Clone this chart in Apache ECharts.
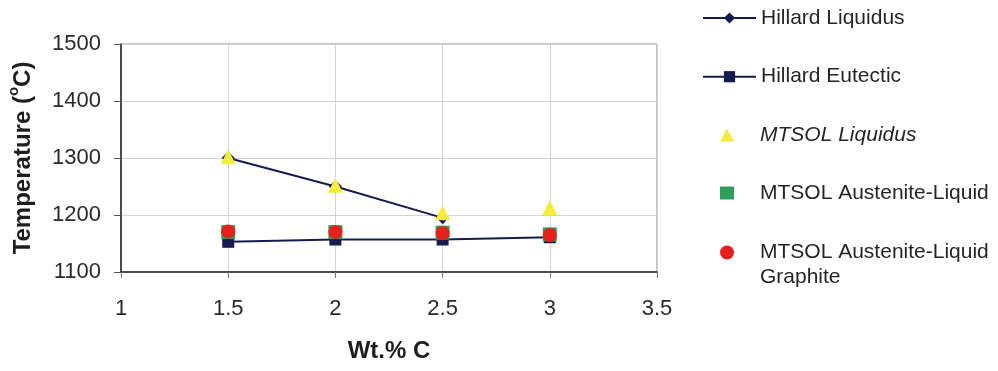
<!DOCTYPE html>
<html>
<head>
<meta charset="utf-8">
<script src="https://cdn.jsdelivr.net/npm/echarts@6/dist/echarts.min.js"></script>
<style>
  html, body { margin: 0; padding: 0; background: #fff; }
  #chart { width: 998px; height: 371px; }
</style>
</head>
<body>
<div id="chart"></div>
<script>
// Carbon content (wt.% C) of each composition
const carbon = [1.5, 2, 2.5, 3];
// Hillard data (°C)
const hillardLiquidus = [1300, 1250, 1195];
const hillardEutectic = [1153, 1157, 1157, 1161];
// MTSOL calculations (°C)
const mtsolLiquidus = [1302, 1252, 1204, 1213];
const mtsolAusteniteLiquid = [1170, 1170, 1169, 1166];
const mtsolAusteniteLiquidGraphite = [1171, 1170, 1168, 1165];

const pairs = (ys) => ys.map((y, i) => [carbon[i], y]);

const NAVY = '#161b4e';
const FONT = '"Liberation Sans", Arial, sans-serif';
const legendText = {
  fontFamily: FONT, fontSize: 21, color: '#252525', lineHeight: 24,
  rich: { s: { width: 21 } }
};
// marker-only entries get their text indented to line up with the line entries
const indented = (text) => text.split('\n').map((t) => '{s|}' + t).join('\n');

const chart = echarts.init(document.getElementById('chart'));
chart.setOption({
  animation: false,
  backgroundColor: '#ffffff',
  grid: {
    left: 121, top: 44, right: 341, bottom: 99,
    outerBoundsMode: 'none', containLabel: false,
    show: true, borderColor: '#8a8a8a', borderWidth: 1
  },
  xAxis: {
    type: 'value', min: 1, max: 3.5, interval: 0.5,
    name: 'Wt.% C', nameLocation: 'middle', nameGap: 67,
    nameTextStyle: { fontFamily: FONT, fontSize: 24, fontWeight: 'bold', color: '#1e1e1e' },
    axisLine: { show: true, onZero: false, lineStyle: { color: '#222', width: 1.5 } },
    axisTick: { show: true, inside: false, length: 6, lineStyle: { color: '#777' } },
    axisLabel: { fontFamily: FONT, fontSize: 22, color: '#2a2a2a', margin: 26, formatter: (v) => String(v) },
    splitLine: { show: true, lineStyle: { color: '#d2d2d2', width: 1 } }
  },
  yAxis: {
    type: 'value', min: 1100, max: 1500, interval: 100,
    name: '{a|Temperature (}{sup|o}{a|C)}', nameLocation: 'middle', nameGap: 80,
    nameTextStyle: {
      rich: {
        a: { fontFamily: FONT, fontSize: 24, fontWeight: 'bold', color: '#1e1e1e' },
        sup: { fontFamily: FONT, fontSize: 15, fontWeight: 'bold', color: '#1e1e1e', padding: [0, 0, 20, 0] }
      }
    },
    axisLine: { show: true, lineStyle: { color: '#222', width: 1.5 } },
    axisTick: { show: true, inside: false, length: 7, lineStyle: { color: '#555' } },
    axisLabel: { fontFamily: FONT, fontSize: 22, color: '#2a2a2a', margin: 20, formatter: (v) => String(v) },
    splitLine: { show: true, lineStyle: { color: '#d2d2d2', width: 1 } }
  },
  legend: [
    {
      orient: 'vertical', left: 702, top: 6, padding: 0,
      itemWidth: 53, itemHeight: 14, itemGap: 34.7,
      textStyle: legendText,
      data: [{ name: 'Hillard Liquidus' }, { name: 'Hillard Eutectic' }]
    },
    {
      orient: 'vertical', left: 720, top: 123, padding: 0,
      itemWidth: 14, itemHeight: 13, itemGap: 34,
      textStyle: legendText,
      formatter: indented,
      data: [
        { name: 'MTSOL Liquidus', textStyle: { fontStyle: 'italic' } },
        { name: 'MTSOL Austenite-Liquid' }
      ]
    },
    {
      orient: 'vertical', left: 720, top: 215, padding: 0,
      itemWidth: 14, itemHeight: 14,
      textStyle: Object.assign({}, legendText, { lineHeight: 25 }),
      formatter: () => '\n' + indented('MTSOL Austenite-Liquid\nGraphite'),
      data: [{ name: 'MTSOL Austenite-Liquid Graphite' }]
    }
  ],
  series: [
    {
      name: 'Hillard Liquidus', type: 'line', data: pairs(hillardLiquidus), z: 2,
      symbol: 'diamond', symbolSize: 13,
      lineStyle: { color: NAVY, width: 2 }, itemStyle: { color: NAVY }
    },
    {
      name: 'Hillard Eutectic', type: 'line', data: pairs(hillardEutectic), z: 2,
      symbol: 'rect', symbolSize: 12,
      lineStyle: { color: NAVY, width: 2 }, itemStyle: { color: NAVY }
    },
    {
      name: 'MTSOL Liquidus', type: 'scatter', data: pairs(mtsolLiquidus), z: 4,
      symbol: 'triangle', symbolSize: 15,
      itemStyle: { color: '#f4ee3a', opacity: 1 }
    },
    {
      name: 'MTSOL Austenite-Liquid', type: 'scatter', data: pairs(mtsolAusteniteLiquid), z: 4,
      symbol: 'rect', symbolSize: 14,
      itemStyle: { color: '#2f9e5c', opacity: 1 }
    },
    {
      name: 'MTSOL Austenite-Liquid Graphite', type: 'scatter', data: pairs(mtsolAusteniteLiquidGraphite), z: 5,
      symbol: 'circle', symbolSize: 14,
      itemStyle: { color: '#e8201c', opacity: 1 }
    }
  ]
});
</script>
</body>
</html>
